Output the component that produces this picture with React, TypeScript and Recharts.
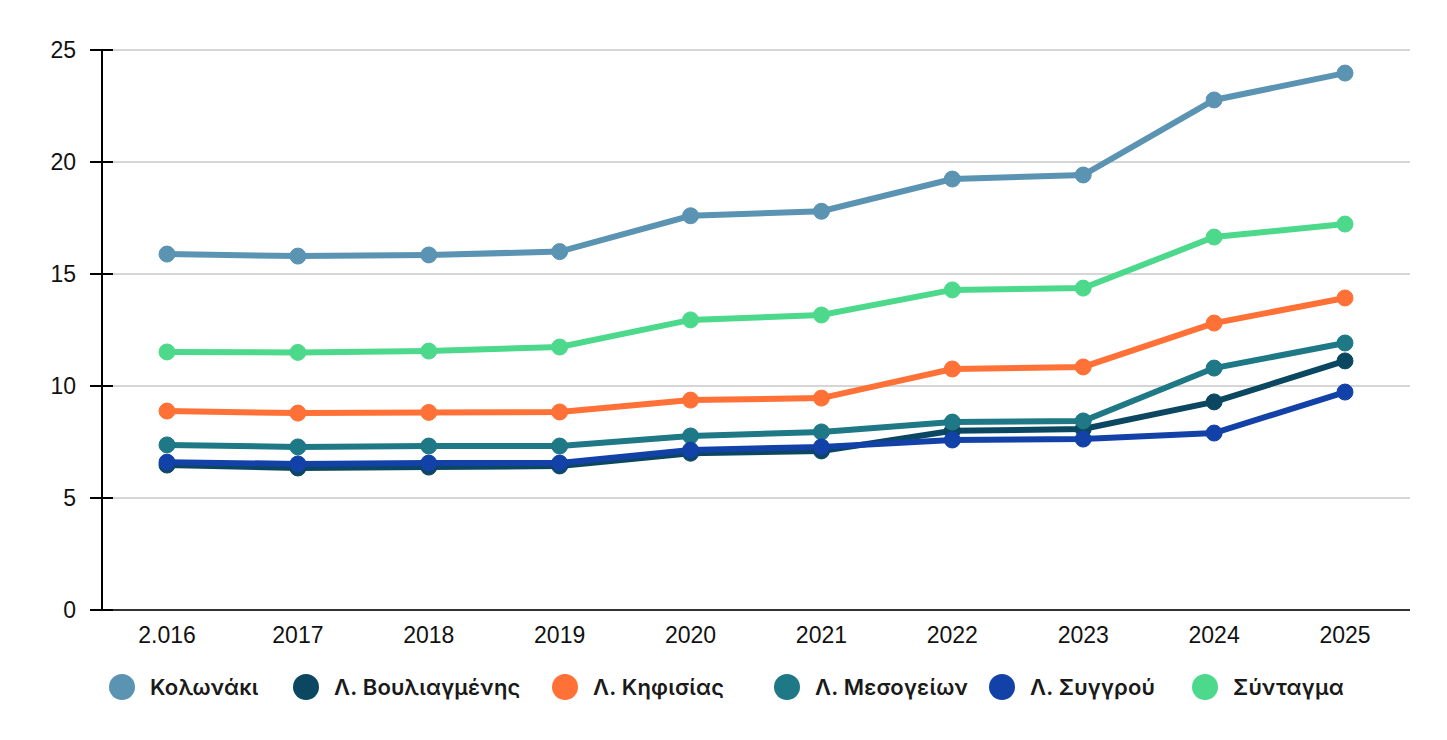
import React from 'react'
import { LineChart, Line, XAxis, YAxis, CartesianGrid, Legend } from 'recharts'

const years = ['2.016', '2017', '2018', '2019', '2020', '2021', '2022', '2023', '2024', '2025']
const yTicks = [0, 5, 10, 15, 20, 25]

const kolonaki = [15.89, 15.8, 15.85, 16.0, 17.6, 17.8, 19.24, 19.42, 22.77, 23.97]
const vouliagmenis = [6.47, 6.34, 6.38, 6.43, 7.0, 7.1, 8.0, 8.08, 9.29, 11.12]
const kifisias = [8.88, 8.79, 8.82, 8.84, 9.37, 9.46, 10.76, 10.85, 12.81, 13.93]
const mesogeion = [7.37, 7.28, 7.32, 7.32, 7.77, 7.95, 8.39, 8.44, 10.8, 11.92]
const syggrou = [6.6, 6.52, 6.56, 6.56, 7.14, 7.28, 7.59, 7.63, 7.9, 9.73]
const syntagma = [11.52, 11.5, 11.56, 11.74, 12.95, 13.17, 14.29, 14.37, 16.65, 17.23]

const series = [
  { key: 'Κολωνάκι', values: kolonaki, color: '#5b93b3' },
  { key: 'Λ. Βουλιαγμένης', values: vouliagmenis, color: '#0b4760' },
  { key: 'Λ. Κηφισίας', values: kifisias, color: '#ff7136' },
  { key: 'Λ. Μεσογείων', values: mesogeion, color: '#1e7885' },
  { key: 'Λ. Συγγρού', values: syggrou, color: '#1242a8' },
  { key: 'Σύνταγμα', values: syntagma, color: '#4cd98b' },
]

// legend slot widths, to keep the same spacing as the original
const legendWidths = [184, 259, 222, 215, 203, 200]

const data = years.map((year, i) => {
  const row: Record<string, string | number> = { year }
  series.forEach(s => { row[s.key] = s.values[i] })
  return row
})

const FONT = '"Liberation Sans", Arial, sans-serif'

// y tick: label plus a tick mark that crosses the axis line
const YTick = ({ x, y, payload }: any) => (
  <g>
    <line x1={x + 8} x2={x + 31} y1={y} y2={y} stroke="#000" strokeWidth={2} />
    <text x={x - 6} y={y} dy="0.36em" textAnchor="end" fontSize={23} fill="#111" fontFamily={FONT}>
      {payload.value}
    </text>
  </g>
)

const LegendContent = () => (
  <div style={{ height: 62, display: 'flex', paddingTop: 4, paddingLeft: 101, boxSizing: 'border-box', fontFamily: 'Inter, sans-serif' }}>
    {series.map((s, i) => (
      <div key={s.key} style={{ display: 'flex', alignItems: 'center', width: legendWidths[i], flexShrink: 0, height: 26 }}>
        <span style={{ width: 26, height: 26, borderRadius: 13, background: s.color, display: 'inline-block', marginRight: 15, flexShrink: 0 }} />
        <span style={{ fontSize: 22, fontWeight: 600, letterSpacing: 0.2, color: '#1a1a1a', whiteSpace: 'nowrap' }}>{s.key}</span>
      </div>
    ))}
  </div>
)

export default function App() {
  return (
    <div style={{ width: 1431, height: 724 }}>
      <LineChart width={1431} height={724} data={data} margin={{ top: 42, right: 29, left: 0, bottom: 0 }}>
        <CartesianGrid vertical={false} stroke="#c8c8c8" strokeWidth={1.5} />
        <XAxis
          dataKey="year"
          height={60}
          padding={{ left: 65, right: 65 }}
          axisLine={{ stroke: '#333', strokeWidth: 2 }}
          tickLine={false}
          tickSize={0}
          tickMargin={17}
          tick={{ fontSize: 23, fill: '#111', fontFamily: FONT }}
        />
        <YAxis
          width={94}
          domain={[0, 25]}
          ticks={yTicks}
          interval={0}
          axisLine={{ stroke: '#000', strokeWidth: 2 }}
          tickLine={false}
          tickSize={12}
          tickMargin={8}
          tick={<YTick />}
        />
        <Legend verticalAlign="bottom" align="left" height={62} content={<LegendContent />} />
        {series.map(s => (
          <Line
            key={s.key}
            dataKey={s.key}
            stroke={s.color}
            strokeWidth={6}
            dot={{ r: 8, fill: s.color, stroke: s.color, strokeWidth: 1 }}
            activeDot={false}
            isAnimationActive={false}
          />
        ))}
      </LineChart>
    </div>
  )
}
